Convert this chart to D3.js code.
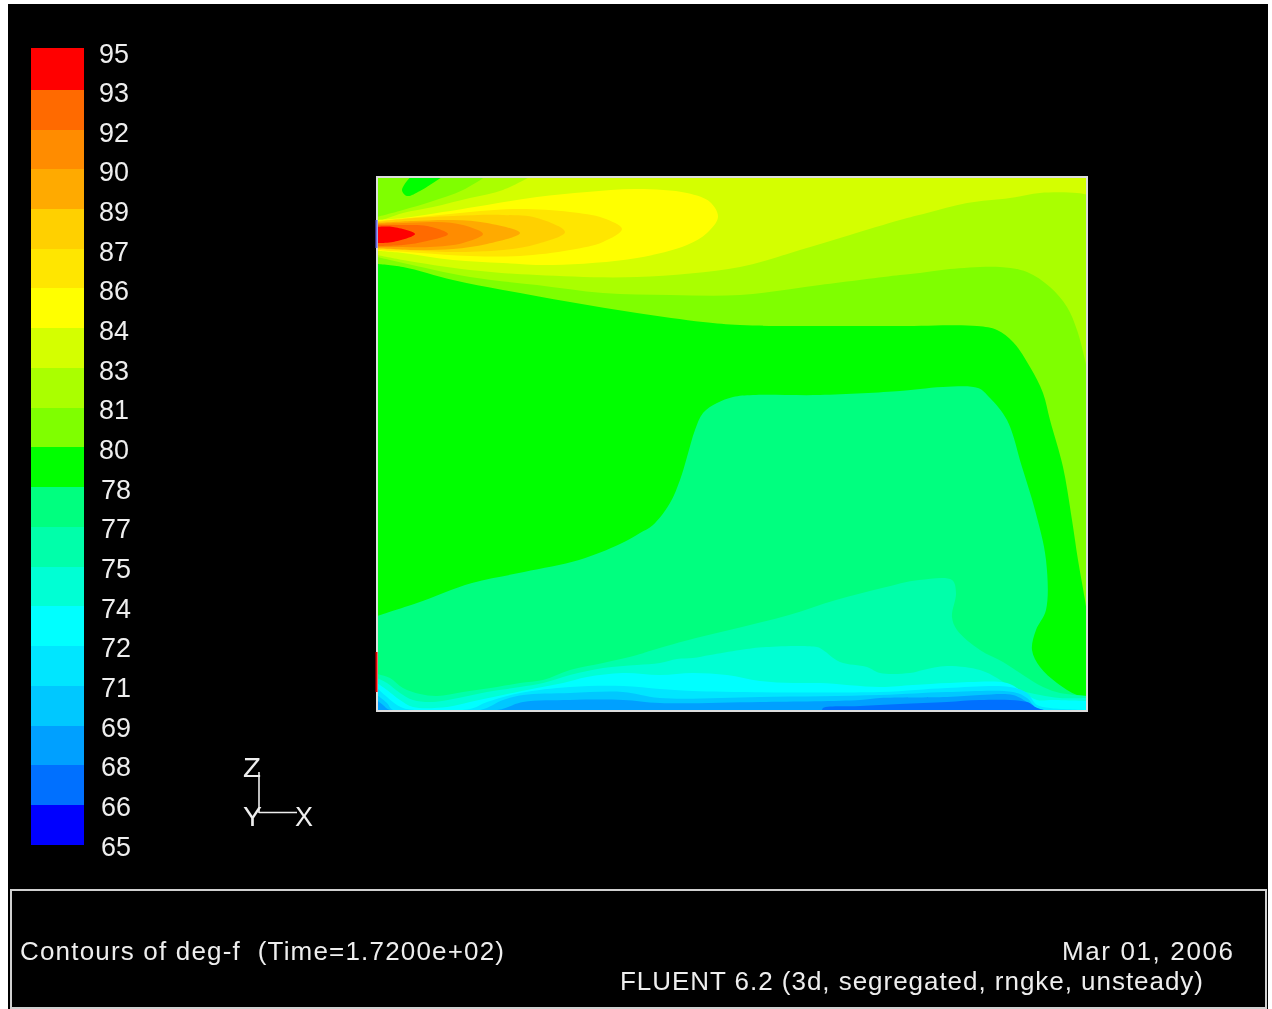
<!DOCTYPE html>
<html>
<head>
<meta charset="utf-8">
<script src="https://cdn.jsdelivr.net/npm/d3@7/dist/d3.min.js"></script>
<style>
html,body{margin:0;padding:0;background:#fff;overflow:hidden}
svg{display:block;filter:blur(0.45px)}
text{font-family:"Liberation Sans",Arial,sans-serif;fill:#eee}
</style>
</head>
<body>
<svg id="c" width="1272" height="1009"></svg>
<script>
// legend
const bandColors = ["#ff0000","#ff6a00","#ff8c00","#ffaa00","#ffd000","#ffe600","#ffff00","#d4ff00","#aaff00","#7fff00","#00ff00","#00ff7f","#00ffaa","#00ffd4","#00ffff","#00e6ff","#00c8ff","#00a0ff","#0070ff","#0000ff"];
const tickLabels = ["95","93","92","90","89","87","86","84","83","81","80","78","77","75","74","72","71","69","68","66","65"];

// contour boundaries in domain units [x, z]; domain is 710 x 534
const upper08 = [[0,456],[26,451],[93,441],[160,436],[260,434],[363,444],[423,461],[473,476],[523,491],[550,498],[590,508],[633,513],[663,518],[700,518],[711,516]];
const upper09 = [[0,454],[26,448],[93,434],[160,426],[226,418],[293,416],[363,416],[443,426],[523,436],[543,438],[573,442],[623,444],[650,439],[673,424],[690,404],[700,381],[708,351],[711,336]];
const upper10 = [[0,447],[26,444],[76,431],[126,421],[193,409],[260,398],[326,389],[363,386],[423,385],[523,385],[600,385],[620,381],[636,369],[653,344],[666,318],[673,291],[686,244],[695,191],[701,151],[708,111],[711,91]];
const upper11 = [[0,95],[40,108],[95,128],[147,139],[202,151],[243,167],[263,178],[276,186],[293,208],[303,231],[310,254],[318,281],[326,298],[340,308],[356,314],[376,316],[443,316],[523,320],[543,322],[566,324],[601,323],[613,313],[630,291],[645,244],[658,201],[669,151],[669,101],[659,81],[655,61],[663,44],[680,28],[700,16],[711,15]];
const upper12 = [[0,37],[13,33],[26,23],[43,17],[60,15],[86,19],[120,24],[143,28],[166,31],[193,41],[226,48],[260,56],[276,61],[319,73],[365,84],[412,96],[459,111],[505,123],[542,131],[575,131],[579,118],[575,94],[580,81],[603,61],[626,49],[646,36],[666,24],[683,18],[711,15]];
const upper13 = [[0,33],[10,28],[23,18],[36,11],[56,9],[86,14],[110,19],[143,24],[166,28],[193,36],[226,43],[260,46],[283,48],[300,52],[316,53],[333,56],[363,61],[389,64],[440,64],[446,61],[463,49],[490,44],[503,38],[533,38],[546,41],[570,45],[603,41],[620,33],[636,23],[663,16],[683,13],[711,13]];
const upper14 = [[0,28],[10,21],[23,11],[36,4],[70,4],[93,9],[126,16],[160,23],[186,28],[210,34],[246,38],[283,36],[316,38],[350,36],[383,30],[416,28],[443,28],[503,24],[536,26],[573,28],[630,28],[643,21],[660,11],[676,11],[711,10]];
const upper15 = [[0,23],[10,14],[20,6],[30,2],[93,2],[110,9],[143,18],[193,24],[246,25],[283,22],[316,20],[503,19],[570,23],[633,24],[650,18],[660,6],[673,3],[711,1]];
const upper16 = [[0,16],[10,8],[16,1],[103,1],[126,11],[146,16],[193,18],[246,19],[283,13],[383,14],[503,16],[570,19],[636,19],[650,13],[660,2],[670,0],[711,0]];
const upper17 = [[0,11],[6,6],[13,1],[120,1],[146,9],[193,11],[246,11],[283,8],[383,9],[483,11],[503,13],[570,14],[603,16],[636,16],[650,9],[660,3],[673,0],[711,0]];
const upper18 = [[445,0],[446,3],[483,5],[523,7],[570,9],[603,11],[650,9],[660,3],[671,0]];

const corner08 = [[0,489],[26,498],[56,504],[93,513],[126,521],[156,536]];
const corner09 = [[0,494],[26,501],[53,509],[86,521],[111,536]];
const corner10 = [[35,536],[25,521],[30,515],[43,520],[68,536]];

const plume06 = [[0,491],[26,493],[60,498],[110,506],[160,514],[210,519],[260,522],[310,518],[333,509],[341,494],[330,478],[310,466],[260,453],[176,446],[126,448],[76,451],[26,458],[0,460]];
const plume05 = [[0,490],[43,494],[93,499],[143,502],[193,499],[226,493],[245,482],[226,469],[193,461],[143,455],[93,455],[43,458],[0,461]];
const plume04 = [[0,489],[26,492],[76,495],[126,496],[160,493],[188,479],[160,467],[126,461],[76,459],[26,461],[0,462]];
const plume03 = [[0,488],[36,490],[76,491],[110,488],[143,478],[110,467],[76,462],[36,461],[0,463]];
const plume02 = [[0,487],[26,488],[60,489],[86,486],[106,477],[86,468],[53,464],[26,464],[0,464]];
const plume01 = [[0,486],[26,486],[50,485],[71,477],[50,470],[26,466],[0,465]];
const plume00 = [[0,484],[16,484],[38,477],[16,469],[0,468]];

const inletWall = [463,491];
const otherWall = [19,59];

const titleLeft = "Contours of deg-f  (Time=1.7200e+02)";
const titleDate = "Mar 01, 2006";
const titleSolver = "FLUENT 6.2 (3d, segregated, rngke, unsteady)";

const svg = d3.select("#c");
svg.append("rect").attr("x",8).attr("y",4).attr("width",1260).attr("height",1010).attr("fill","#000");

// plot
const x = d3.scaleLinear().domain([0,710]).range([377,1087]);
const z = d3.scaleLinear().domain([0,534]).range([711,177]);
const line = d3.line().x(d=>x(d[0])).y(d=>z(d[1])).curve(d3.curveCatmullRom.alpha(0.5));
const straight = d3.line().x(d=>x(d[0])).y(d=>z(d[1]));

svg.append("clipPath").attr("id","plotClip").append("rect")
  .attr("x",x(0)).attr("y",z(534)).attr("width",x(710)-x(0)).attr("height",z(0)-z(534));
const plot = svg.append("g").attr("clip-path","url(#plotClip)");
plot.append("rect").attr("x",x(0)).attr("y",z(534)).attr("width",x(710)-x(0)).attr("height",z(0)-z(534)).attr("fill",bandColors[7]);

function shape(b, closeZ){
  const last=b[b.length-1], first=b[0];
  const tail = closeZ===null ? "" : straight([last,[last[0],closeZ],[first[0],closeZ],first]).replace(/^M[^L]*/,"");
  return line(b)+tail+"Z";
}
const layers = [
  [upper08,8,-5],[upper09,9,-5],[upper10,10,-5],[upper11,11,-5],[upper12,12,-5],[upper13,13,-5],
  [upper14,14,-5],[upper15,15,-5],[upper16,16,-5],[upper17,17,-5],[upper18,18,-5],
  [corner08,8,540],[corner09,9,540],[corner10,10,540],
  [plume06,6,null],[plume05,5,null],[plume04,4,null],[plume03,3,null],[plume02,2,null],[plume01,1,null],[plume00,0,null]
];
plot.selectAll("path").data(layers).join("path")
  .attr("d",d=>shape(d[0],d[2]))
  .attr("fill",d=>bandColors[d[1]]);

svg.append("rect").attr("x",x(0)).attr("y",z(534)).attr("width",x(710)-x(0)).attr("height",z(0)-z(534))
  .attr("fill","none").attr("stroke","#dcdcdc").attr("stroke-width",2);
svg.append("line").attr("x1",x(0)-.5).attr("x2",x(0)-.5).attr("y1",z(inletWall[1])).attr("y2",z(inletWall[0]))
  .attr("stroke","#6a6ae6").attr("stroke-width",2);
svg.append("line").attr("x1",x(0)-.5).attr("x2",x(0)-.5).attr("y1",z(otherWall[1])).attr("y2",z(otherWall[0]))
  .attr("stroke","#e00000").attr("stroke-width",2);

// legend
const legendY = d3.scaleLinear().domain([0,1,7,20]).rangeRound([48,90,328,845]);
svg.append("g").selectAll("rect").data(bandColors).join("rect")
  .attr("x",31).attr("width",53)
  .attr("y",(d,i)=>legendY(i)).attr("height",(d,i)=>legendY(i+1)-legendY(i))
  .attr("fill",d=>d);
const labelY = d3.scaleLinear().domain([0,20]).range([53,846]);
svg.append("g").selectAll("text").data(tickLabels).join("text")
  .attr("x",(d,i)=>i<=10?99:101).attr("y",(d,i)=>labelY(i)+9.5)
  .attr("font-size",27).attr("textLength",30).attr("lengthAdjust","spacingAndGlyphs").text(d=>d);

// triad
const triad = svg.append("g").attr("stroke","#eee").attr("stroke-width",1.6);
triad.append("line").attr("x1",259).attr("y1",772).attr("x2",259).attr("y2",813);
triad.append("line").attr("x1",259).attr("y1",812.5).attr("x2",297).attr("y2",812.5);
[["Z",243,777,18],["Y",243,826,19],["X",295,826,18]].forEach(t=>{
  svg.append("text").attr("x",t[1]).attr("y",t[2]).attr("font-size",28).attr("textLength",t[3]).attr("lengthAdjust","spacingAndGlyphs").text(t[0]);
});

// title box
svg.append("rect").attr("x",11).attr("y",890).attr("width",1255).attr("height",118)
  .attr("fill","none").attr("stroke","#d0d0d0").attr("stroke-width",2);
[[titleLeft,20,960,484],[titleDate,1062,960,171],[titleSolver,620,990,583]].forEach(t=>{
  svg.append("text").attr("x",t[1]).attr("y",t[2]).attr("font-size",26).attr("textLength",t[3]).attr("lengthAdjust","spacing").style("white-space","pre").text(t[0]);
});
</script>
</body>
</html>
